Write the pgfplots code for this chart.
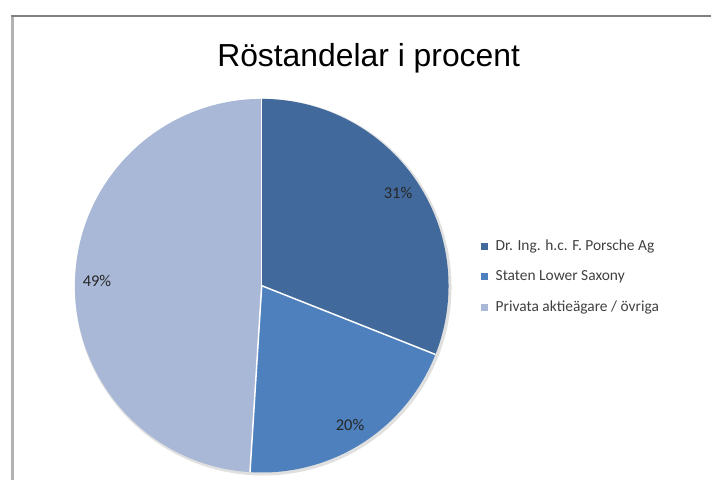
\documentclass[border=0pt]{standalone}
\usepackage{pgfplots}
\usepackage{pgfplotstable}
\pgfplotsset{compat=1.18}
\usepackage{fontspec}
\setmainfont{Carlito}
\newfontfamily\titlefont{Liberation Sans}
\definecolor{cA}{RGB}{65,105,155}
\definecolor{cB}{RGB}{77,128,189}
\definecolor{cC}{RGB}{168,184,214}
\pgfplotstableread{
label value
A 31
B 20
C 49
}\piedata
\begin{document}
\begin{tikzpicture}
\pgfplotstablegetelem{0}{value}\of\piedata \let\vA\pgfplotsretval
\pgfplotstablegetelem{1}{value}\of\piedata \let\vB\pgfplotsretval
\pgfplotstablegetelem{2}{value}\of\piedata \let\vC\pgfplotsretval
\pgfmathsetmacro\aA{90}
\pgfmathsetmacro\aB{\aA-3.6*\vA}
\pgfmathsetmacro\aC{\aB-3.6*\vB}
\pgfmathsetmacro\aD{\aC-3.6*\vC}
\pgfmathsetmacro\mA{(\aA+\aB)/2}
\pgfmathsetmacro\mB{(\aB+\aC)/2}
\pgfmathsetmacro\mC{(\aC+\aD)/2}
\begin{axis}[
  width=712bp, height=481bp, scale only axis,
  xmin=0, xmax=712, ymin=0, ymax=481, y dir=reverse,
  axis lines=none, clip=false,
  legend cell align=left,
  legend image code/.code={\fill[#1, draw=none] (0bp,-3.5bp) rectangle (7bp,3.5bp); \path[draw=none, fill=none] (0bp,0bp) rectangle (13bp,0.1bp);},
  legend style={at={(axis cs:478,277)}, anchor=west, draw=none, fill=none,
    font=\fontsize{15.5}{18}\selectfont, text=black!75,
    row sep=12.5bp,
    nodes={inner sep=2bp, text height=11bp, text depth=3bp}},
]
\addlegendimage{cA}\addlegendentry{Dr. Ing. h.c. F. Porsche Ag}
\addlegendimage{cB}\addlegendentry{Staten Lower Saxony}
\addlegendimage{cC}\addlegendentry{Privata aktieägare / övriga}
\path (axis cs:0,0) rectangle (axis cs:712,481);
\draw[black!30, line width=3bp] (axis cs:12.5,17) -- (axis cs:12.5,481);
\draw[black!50, line width=1.5bp] (axis cs:11,16) -- (axis cs:712,16);
\fill[black!12] (axis cs:263.5,287.5) circle[radius=188.5bp];
\fill[cA] (axis cs:262,286) -- ++(\aA:187bp) arc[start angle=\aA, end angle=\aB, radius=187bp] -- cycle;
\fill[cB] (axis cs:262,286) -- ++(\aB:187bp) arc[start angle=\aB, end angle=\aC, radius=187bp] -- cycle;
\fill[cC] (axis cs:262,286) -- ++(\aC:187bp) arc[start angle=\aC, end angle=\aD, radius=187bp] -- cycle;
\draw[white, line width=1.5bp] (axis cs:262,286) -- ++(\aA:187bp);
\draw[white, line width=1.5bp] (axis cs:262,286) -- ++(\aB:187bp);
\draw[white, line width=1.5bp] (axis cs:262,286) -- ++(\aC:187bp);
\path (axis cs:262,286) ++(\mA:165bp) node[font=\fontsize{16.5}{19}\selectfont, text=black!85] {\vA\%};
\path (axis cs:262,286) ++(\mB:165bp) node[font=\fontsize{16.5}{19}\selectfont, text=black!85] {\vB\%};
\path (axis cs:262,286) ++(\mC:165bp) node[font=\fontsize{16.5}{19}\selectfont, text=black!85] {\vC\%};
\node[font=\titlefont\fontsize{32}{36}\selectfont, anchor=base, text=black] at (axis cs:369,67) {Röstandelar i procent};
\end{axis}
\end{tikzpicture}
\end{document}
